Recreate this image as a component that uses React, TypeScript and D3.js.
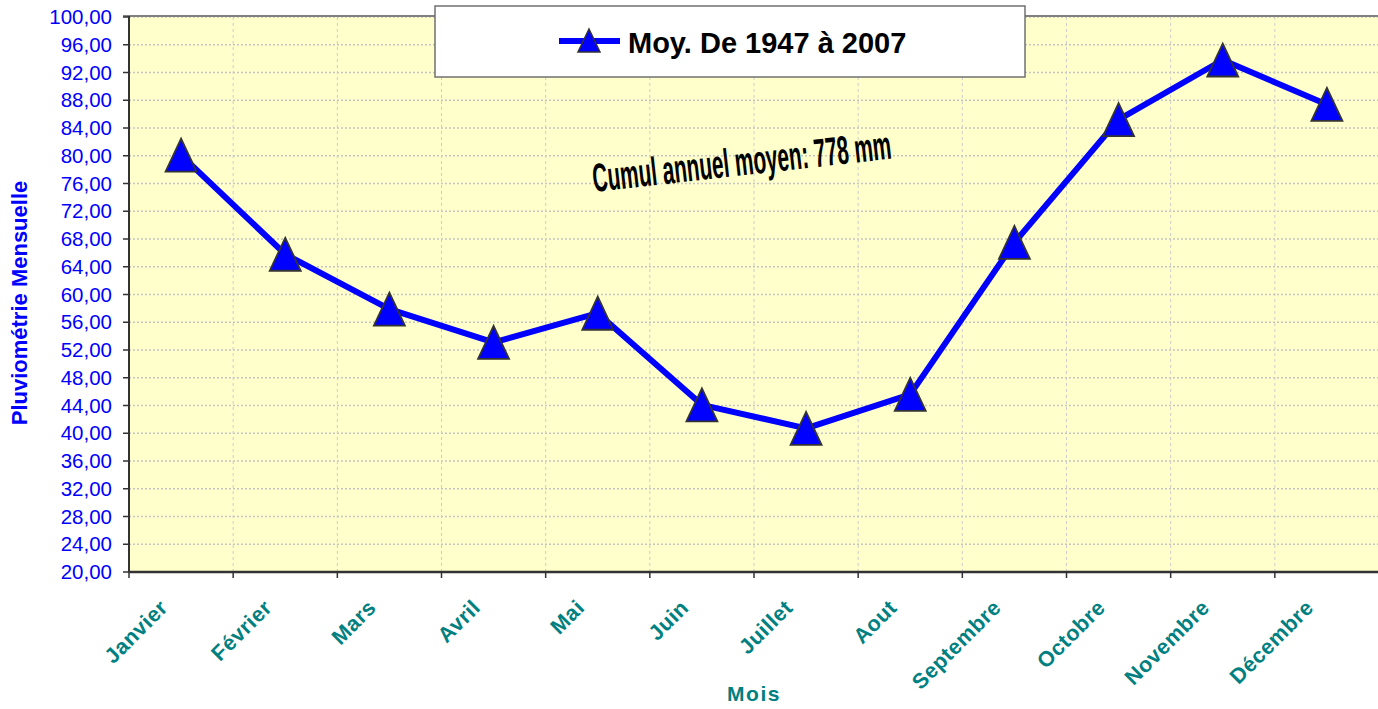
import * as d3 from "d3";

// Monthly rainfall averages 1947-2007 (mm)
const months = ["Janvier", "Février", "Mars", "Avril", "Mai", "Juin", "Juillet", "Aout", "Septembre", "Octobre", "Novembre", "Décembre"];
const rainfall = [80.1, 65.8, 57.9, 53.1, 57.3, 44.1, 40.7, 45.6, 67.5, 85.2, 93.8, 87.4];
const yTicks = d3.range(20, 101, 4);
const seriesName = "Moy. De 1947 à 2007";
const annotation = "Cumul annuel moyen: 778 mm";

const W = 1378;
const H = 709;
const left = 129;
const right = 1379;
const top = 17;
const bottom = 572;
const FONT = "'Liberation Sans', Arial, sans-serif";

const triangle = (w: number, h: number) => `M0,${-h / 2}L${w / 2},${h / 2}L${-w / 2},${h / 2}Z`;

export default function App() {
  const x = d3.scaleBand<string>().domain(months).range([left, right]);
  const y = d3.scaleLinear().domain([20, 100]).range([bottom, top]);
  const cx = (m: string) => (x(m) ?? 0) + x.bandwidth() / 2;
  const fmt = (v: number) => d3.format(".2f")(v).replace(".", ",");

  const line = d3
    .line<number>()
    .x((_, i) => cx(months[i]))
    .y((d) => y(d));

  const boundaries = months.map((m) => x(m) ?? 0).concat([right]);

  return (
    <svg width={W} height={H} style={{ position: "absolute", left: 0, top: 0, background: "#fff" }} fontFamily={FONT}>
      {/* plot background */}
      <rect x={left} y={top - 1} width={right - left} height={bottom - top + 1} fill="#FFFFCC" />

      {/* horizontal grid */}
      {yTicks.slice(1).map((t) => (
        <line key={"h" + t} x1={left} x2={right} y1={y(t)} y2={y(t)} stroke="#c4c4c4" strokeWidth={1.5} strokeDasharray="2,2" />
      ))}
      {/* vertical grid */}
      {boundaries.slice(1, -1).map((b, i) => (
        <line key={"v" + i} x1={b} x2={b} y1={top} y2={bottom} stroke="#cccccc" strokeWidth={1} strokeDasharray="3,3" />
      ))}

      {/* frame */}
      <line x1={left - 6} x2={right} y1={top - 1} y2={top - 1} stroke="#808080" strokeWidth={2} />
      <line x1={left} x2={left} y1={top - 1} y2={bottom} stroke="#333" strokeWidth={2} />
      <line x1={left} x2={right} y1={bottom} y2={bottom} stroke="#333" strokeWidth={2.5} />

      {/* y ticks & labels */}
      {yTicks.map((t) => (
        <g key={"yt" + t}>
          <line x1={left - 6} x2={left} y1={y(t)} y2={y(t)} stroke="#333" strokeWidth={1.5} />
          <text x={112} y={y(t)} dy="0.35em" textAnchor="end" fontSize={20.5} fill="#0000FF">
            {fmt(t)}
          </text>
        </g>
      ))}

      {/* x ticks */}
      {boundaries.map((b, i) => (
        <line key={"xt" + i} x1={b} x2={b} y1={bottom} y2={bottom + 6} stroke="#333" strokeWidth={1.5} />
      ))}

      {/* x labels */}
      {months.map((m) => (
        <text
          key={"xl" + m}
          transform={`translate(${cx(m) - 12},${609}) rotate(-45)`}
          textAnchor="end"
          fontSize={21.5}
          fontWeight="bold"
          fill="#008080"
          letterSpacing={0.5}
        >
          {m}
        </text>
      ))}

      {/* axis titles */}
      <text x={(left + right) / 2} y={701} textAnchor="middle" fontSize={21} fontWeight="bold" fill="#008080" letterSpacing={1.5}>
        Mois
      </text>
      <text transform={`translate(27,${303}) rotate(-90)`} textAnchor="middle" fontSize={22} fontWeight="bold" fill="#0000FF">
        Pluviométrie Mensuelle
      </text>

      {/* series */}
      <path d={line(rainfall) ?? ""} fill="none" stroke="#0000FF" strokeWidth={6} strokeLinejoin="round" />
      {rainfall.map((v, i) => (
        <path
          key={"m" + i}
          d={triangle(31, 33)}
          transform={`translate(${cx(months[i])},${y(v)})`}
          fill="#0000FF"
          stroke="#333"
          strokeWidth={1.8}
        />
      ))}

      {/* annotation */}
      <text transform="translate(594,192) rotate(-6.4) scale(0.52,1)" fontSize={40} fontWeight="bold" fill="#000">
        {annotation}
      </text>

      {/* legend */}
      <rect x={435} y={6} width={590} height={71} fill="#fff" stroke="#707070" strokeWidth={1.5} />
      <line x1={559} x2={620} y1={41} y2={41} stroke="#0000FF" strokeWidth={6} />
      <path d={triangle(22, 23)} transform="translate(589,40.5)" fill="#0000FF" stroke="#333" strokeWidth={1.5} />
      <text x={628} y={53} fontSize={29} fontWeight="bold" fill="#000">
        {seriesName}
      </text>
    </svg>
  );
}
